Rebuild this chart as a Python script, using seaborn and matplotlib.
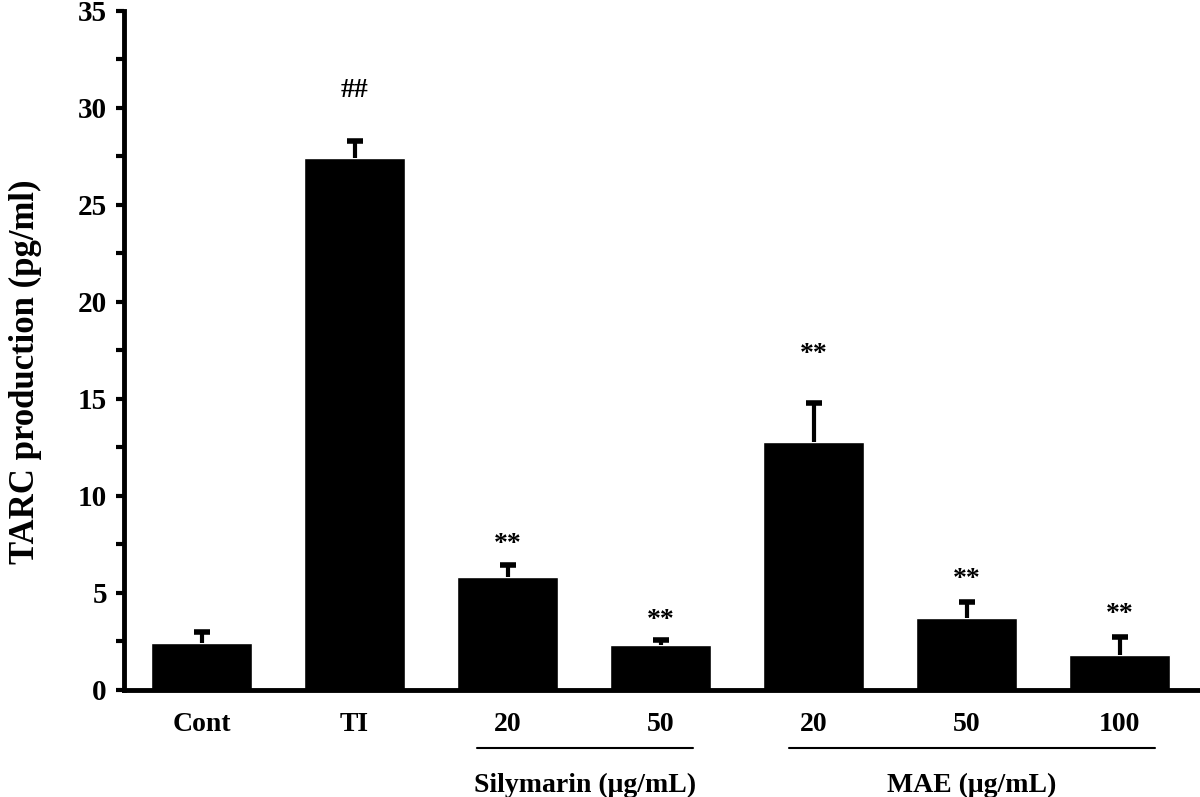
import numpy as np
import pandas as pd
import matplotlib
matplotlib.use("Agg")
import matplotlib.pyplot as plt
import matplotlib.transforms as mtransforms
from matplotlib.ticker import MultipleLocator
import seaborn as sns

# ------------------------------------------------------------------
# Data
# ------------------------------------------------------------------
groups = ["Cont", "TI", "Sil 20", "Sil 50", "MAE 20", "MAE 50", "MAE 100"]
tick_labels = ["Cont", "TI", "20", "50", "20", "50", "100"]
tarc_mean = [2.4, 27.4, 5.8, 2.3, 12.8, 3.7, 1.8]
tarc_sd = [0.6, 0.9, 0.65, 0.25, 2.0, 0.85, 0.95]
marks = ["", "##", "**", "**", "**", "**", "**"]
mark_y = [0, 30.9, 7.5, 3.6, 17.3, 5.7, 3.9]

bracket_names = ["Silymarin (\u03bcg/mL)", "MAE (\u03bcg/mL)"]
bracket_span = [(1.80, 3.21), (3.84, 6.23)]

# ------------------------------------------------------------------
# Setup
# ------------------------------------------------------------------
sns.set_style("white")
plt.rcParams["font.family"] = ["Liberation Serif", "DejaVu Serif"]
plt.rcParams["font.weight"] = "bold"
plt.rcParams["text.color"] = "black"
plt.rcParams["axes.labelcolor"] = "black"
plt.rcParams["xtick.color"] = "black"
plt.rcParams["ytick.color"] = "black"

df = pd.DataFrame({"group": groups, "tarc": tarc_mean})

fig = plt.figure(figsize=(12, 7.97), dpi=100)
ax = fig.add_axes([0.103, 0.1343, 0.895, 0.852])

sns.barplot(data=df, x="group", y="tarc", color="black", width=0.66,
            errorbar=None, saturation=1, ax=ax)

# upper error bars only
xs = np.arange(len(groups))
eb = ax.errorbar(xs, tarc_mean, yerr=[np.zeros(len(groups)), tarc_sd], fmt="none",
                 ecolor="black", elinewidth=3, capsize=6, capthick=4)
eb[1][0].remove()

for x, y, m in zip(xs, mark_y, marks):
    if m:
        ax.text(x, y, m, ha="center", va="center", fontsize=20, fontweight="bold")

ax.set_xlim(-0.51, 6.51)
ax.set_ylim(0, 35)
ax.yaxis.set_major_locator(MultipleLocator(5))
ax.yaxis.set_minor_locator(MultipleLocator(2.5))
ax.tick_params(axis="y", which="major", direction="out", length=6, width=3,
               labelsize=21, pad=6, left=True)
ax.tick_params(axis="y", which="minor", direction="out", length=6, width=3, left=True)
ax.tick_params(axis="x", length=0, labelsize=20, pad=16)
ax.set_xticks(xs)
ax.set_xticklabels(tick_labels, fontweight="bold")
for lab in ax.get_yticklabels():
    lab.set_fontweight("bold")

ax.set_xlabel("")
ax.set_ylabel("TARC production (pg/ml)", fontsize=25, fontweight="bold")
ax.yaxis.set_label_coords(-0.076, 0.468)

for side in ["top", "right"]:
    ax.spines[side].set_visible(False)
for side in ["left", "bottom"]:
    ax.spines[side].set_linewidth(3.5)
    ax.spines[side].set_color("black")

# group brackets under the tick labels
trans = mtransforms.blended_transform_factory(ax.transData, ax.transAxes)
for name, (x0, x1) in zip(bracket_names, bracket_span):
    ax.plot([x0, x1], [-0.085, -0.085], color="black", lw=1.5,
            transform=trans, clip_on=False)
    ax.text((x0 + x1) / 2, -0.14, name, ha="center", va="center",
            fontsize=20, fontweight="bold", transform=trans)

plt.savefig("out.png", dpi=100)
plt.close()
